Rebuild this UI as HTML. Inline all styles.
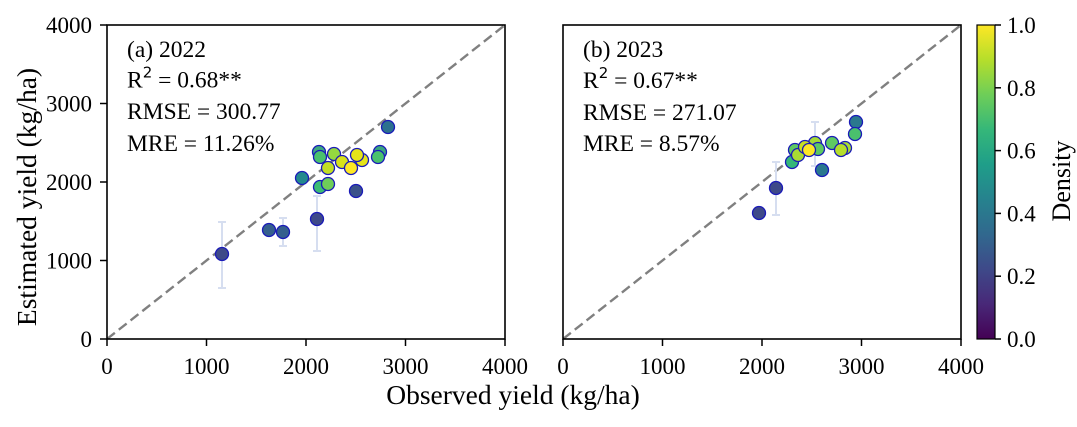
<!DOCTYPE html>
<html>
<head>
<meta charset="utf-8">
<style>
html,body{margin:0;padding:0;background:#fff;}
svg{display:block;}
text{font-family:"Liberation Serif","Times New Roman",serif;fill:#000;}
</style>
</head>
<body>
<svg width="1077" height="427" viewBox="0 0 1077 427" xmlns="http://www.w3.org/2000/svg">
<defs>
<linearGradient id="vir" x1="0" y1="1" x2="0" y2="0">
<stop offset="0" stop-color="#440154"/>
<stop offset="0.111" stop-color="#482878"/>
<stop offset="0.222" stop-color="#3e4989"/>
<stop offset="0.333" stop-color="#31688e"/>
<stop offset="0.444" stop-color="#26828e"/>
<stop offset="0.556" stop-color="#1f9e89"/>
<stop offset="0.667" stop-color="#35b779"/>
<stop offset="0.778" stop-color="#6ece58"/>
<stop offset="0.889" stop-color="#b5de2b"/>
<stop offset="1" stop-color="#fde725"/>
</linearGradient>
<clipPath id="c1"><rect x="107" y="25" width="398" height="314"/></clipPath>
<clipPath id="c2"><rect x="563" y="25" width="398" height="314"/></clipPath>
</defs>

<!-- ===== Left panel ===== -->
<line x1="107" y1="339" x2="505" y2="25" stroke="#808080" stroke-width="2.4" stroke-dasharray="10,5" clip-path="url(#c1)"/>
<g stroke="#d6def0" stroke-width="2" fill="none">
<line x1="222" y1="222" x2="222" y2="288"/><line x1="218" y1="222" x2="226" y2="222"/><line x1="218" y1="288" x2="226" y2="288"/>
<line x1="283" y1="218" x2="283" y2="246"/><line x1="279" y1="218" x2="287" y2="218"/><line x1="279" y1="246" x2="287" y2="246"/>
<line x1="317" y1="196" x2="317" y2="251"/><line x1="313" y1="196" x2="321" y2="196"/><line x1="313" y1="251" x2="321" y2="251"/>
</g>
<g stroke="#1a1ab8" stroke-width="1.3">
<circle cx="222" cy="254" r="6.5" fill="#3e4989"/>
<circle cx="269" cy="230" r="6.5" fill="#355f8d"/>
<circle cx="283" cy="232" r="6.5" fill="#355f8d"/>
<circle cx="317" cy="219" r="6.5" fill="#3e4989"/>
<circle cx="356" cy="191" r="6.5" fill="#3b528b"/>
<circle cx="388" cy="127" r="6.5" fill="#2c718e"/>
<circle cx="302" cy="178" r="6.5" fill="#23898e"/>
<circle cx="380" cy="152" r="6.5" fill="#3aa57f"/>
<circle cx="378" cy="157" r="6.5" fill="#4ac16d"/>
<circle cx="320" cy="187" r="6.5" fill="#3dbc74"/>
<circle cx="328" cy="184" r="6.5" fill="#6ece58"/>
<circle cx="319" cy="152" r="6.5" fill="#3fa880"/>
<circle cx="320" cy="157" r="6.5" fill="#4ac16d"/>
<circle cx="334" cy="154" r="6.5" fill="#95d840"/>
<circle cx="328" cy="168" r="6.5" fill="#c2df23"/>
<circle cx="362" cy="160" r="6.5" fill="#e5e419"/>
<circle cx="357" cy="155" r="6.5" fill="#e5e419"/>
<circle cx="342" cy="162" r="6.5" fill="#d8e219"/>
<circle cx="351" cy="168" r="6.5" fill="#fde725"/>
</g>
<rect x="107" y="25" width="398" height="314" fill="none" stroke="#000" stroke-width="1.6"/>
<g stroke="#000" stroke-width="1.5">
<line x1="107" y1="339" x2="107" y2="346"/>
<line x1="206.5" y1="339" x2="206.5" y2="346"/>
<line x1="306" y1="339" x2="306" y2="346"/>
<line x1="405.5" y1="339" x2="405.5" y2="346"/>
<line x1="505" y1="339" x2="505" y2="346"/>
<line x1="100" y1="339" x2="107" y2="339"/>
<line x1="100" y1="260.5" x2="107" y2="260.5"/>
<line x1="100" y1="182" x2="107" y2="182"/>
<line x1="100" y1="103.5" x2="107" y2="103.5"/>
<line x1="100" y1="25" x2="107" y2="25"/>
</g>
<g font-size="23" text-anchor="middle">
<text x="107" y="374">0</text>
<text x="206.5" y="374">1000</text>
<text x="306" y="374">2000</text>
<text x="405.5" y="374">3000</text>
<text x="505" y="374">4000</text>
</g>
<g font-size="23" text-anchor="end">
<text x="92" y="347">0</text>
<text x="92" y="268.5">1000</text>
<text x="92" y="190">2000</text>
<text x="92" y="111.5">3000</text>
<text x="92" y="33">4000</text>
</g>
<g font-size="23.5">
<text x="127" y="57">(a) 2022</text>
<text x="127" y="87.5">R<tspan font-family="DejaVu Sans" font-size="15" dy="-10">2</tspan><tspan dy="10"> = 0.68**</tspan></text>
<text x="127" y="119">RMSE = 300.77</text>
<text x="127" y="151">MRE = 11.26%</text>
</g>

<!-- ===== Right panel ===== -->
<line x1="563" y1="339" x2="961" y2="25" stroke="#808080" stroke-width="2.4" stroke-dasharray="10,5" clip-path="url(#c2)"/>
<g stroke="#d6def0" stroke-width="2" fill="none">
<line x1="776" y1="162" x2="776" y2="215"/><line x1="772" y1="162" x2="780" y2="162"/><line x1="772" y1="215" x2="780" y2="215"/>
<line x1="815" y1="122" x2="815" y2="166"/><line x1="811" y1="122" x2="819" y2="122"/><line x1="811" y1="166" x2="819" y2="166"/>
</g>
<g stroke="#1a1ab8" stroke-width="1.3">
<circle cx="759" cy="213" r="6.5" fill="#3e4989"/>
<circle cx="776" cy="188" r="6.5" fill="#3e4989"/>
<circle cx="822" cy="170" r="6.5" fill="#2a788e"/>
<circle cx="856" cy="122" r="6.5" fill="#2a788e"/>
<circle cx="855" cy="134" r="6.5" fill="#4ac16d"/>
<circle cx="792" cy="162" r="6.5" fill="#35b779"/>
<circle cx="795" cy="150" r="6.5" fill="#5ec962"/>
<circle cx="798" cy="155" r="6.5" fill="#a8db34"/>
<circle cx="815" cy="143" r="6.5" fill="#a5db36"/>
<circle cx="805" cy="147" r="6.5" fill="#c8e020"/>
<circle cx="818" cy="149" r="6.5" fill="#5ec962"/>
<circle cx="809" cy="150" r="6.5" fill="#fde725"/>
<circle cx="832" cy="143" r="6.5" fill="#5ec962"/>
<circle cx="845" cy="148" r="6.5" fill="#a8db34"/>
<circle cx="841" cy="150" r="6.5" fill="#b5de2b"/>
</g>
<rect x="563" y="25" width="398" height="314" fill="none" stroke="#000" stroke-width="1.6"/>
<g stroke="#000" stroke-width="1.5">
<line x1="563" y1="339" x2="563" y2="346"/>
<line x1="662.5" y1="339" x2="662.5" y2="346"/>
<line x1="762" y1="339" x2="762" y2="346"/>
<line x1="861.5" y1="339" x2="861.5" y2="346"/>
<line x1="961" y1="339" x2="961" y2="346"/>
</g>
<g font-size="23" text-anchor="middle">
<text x="563" y="374">0</text>
<text x="662.5" y="374">1000</text>
<text x="762" y="374">2000</text>
<text x="861.5" y="374">3000</text>
<text x="961" y="374">4000</text>
</g>
<g font-size="23.5">
<text x="583" y="57">(b) 2023</text>
<text x="583" y="88">R<tspan font-family="DejaVu Sans" font-size="15" dy="-10">2</tspan><tspan dy="10"> = 0.67**</tspan></text>
<text x="583" y="120">RMSE = 271.07</text>
<text x="583" y="151">MRE = 8.57%</text>
</g>

<!-- ===== Colorbar ===== -->
<rect x="977" y="25" width="18" height="314" fill="url(#vir)" stroke="#000" stroke-width="1.2"/>
<g stroke="#000" stroke-width="1.5">
<line x1="995" y1="339" x2="1001" y2="339"/>
<line x1="995" y1="276.2" x2="1001" y2="276.2"/>
<line x1="995" y1="213.4" x2="1001" y2="213.4"/>
<line x1="995" y1="150.6" x2="1001" y2="150.6"/>
<line x1="995" y1="87.8" x2="1001" y2="87.8"/>
<line x1="995" y1="25" x2="1001" y2="25"/>
</g>
<g font-size="23">
<text x="1007" y="347">0.0</text>
<text x="1007" y="284.2">0.2</text>
<text x="1007" y="221.4">0.4</text>
<text x="1007" y="158.6">0.6</text>
<text x="1007" y="95.8">0.8</text>
<text x="1007" y="33">1.0</text>
</g>
<text font-size="26" text-anchor="middle" transform="translate(1070,181) rotate(-90)">Density</text>

<!-- ===== Axis labels ===== -->
<text font-size="27.5" text-anchor="middle" x="513" y="404">Observed yield (kg/ha)</text>
<text font-size="27.5" text-anchor="middle" transform="translate(36,197) rotate(-90)">Estimated yield (kg/ha)</text>
</svg>
</body>
</html>
